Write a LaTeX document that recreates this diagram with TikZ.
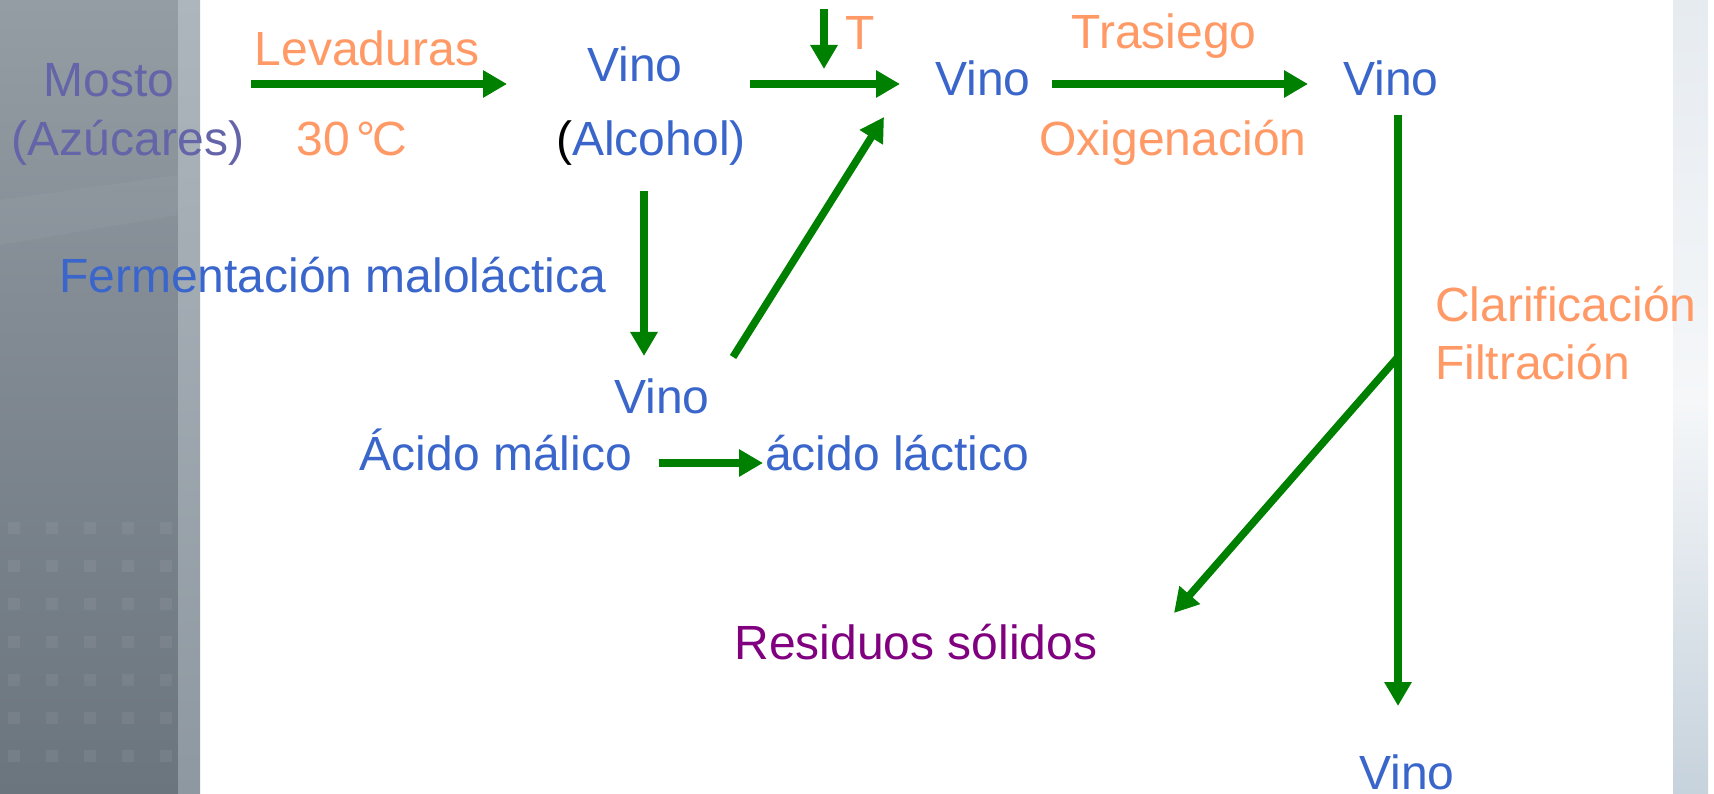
\documentclass[tikz,border=0pt]{standalone}
\usepackage{fontspec}
\setmainfont{Liberation Sans}
\usetikzlibrary{arrows.meta}
\definecolor{tblue}{HTML}{3A66CC}
\definecolor{torange}{HTML}{FF9966}
\definecolor{tslate}{HTML}{6464A8}
\definecolor{tpurple}{HTML}{800080}
\definecolor{tgreen}{HTML}{008000}
\definecolor{panelA}{HTML}{959DA4}
\definecolor{panelB}{HTML}{838C94}
\definecolor{panelC}{HTML}{6B757E}
\definecolor{stripA}{HTML}{AEB6BD}
\definecolor{stripB}{HTML}{8E98A0}
\definecolor{rstripA}{HTML}{E6EBF0}
\definecolor{rstripB}{HTML}{F5F7F9}
\definecolor{rstripC}{HTML}{C6D2DC}
\begin{document}
\begin{tikzpicture}[x=1pt,y=-1pt,
  txt/.style={font=\fontsize{48}{58}\selectfont, inner sep=0pt, anchor=base},
  txtl/.style={txt, anchor=base west},
  txtr/.style={txt, anchor=base east},
  flow/.style={draw=tgreen, line width=7.5pt, -{Triangle[length=24pt,width=26pt]}}]
\useasboundingbox (0,0) rectangle (1714,794);
% background panels
\fill[white] (0,0) rectangle (1714,794);
\shade[top color=panelA, bottom color=panelB] (0,0) rectangle (178,300);
\shade[top color=panelB, bottom color=panelC] (0,300) rectangle (178,794);
\fill[white, opacity=0.04] (0,200) -- (178,175) -- (178,215) -- (0,245) -- cycle;
\shade[top color=stripA, bottom color=stripB] (178,0) rectangle (200,794);
\foreach \r in {0,...,6} {
  \foreach \c in {0,...,4} {
    \fill[white, opacity=0.06] (8+\c*38,522+\r*38) rectangle (20+\c*38,534+\r*38);
  }
}
\shade[top color=rstripA, bottom color=rstripB] (1673,0) rectangle (1708,400);
\shade[top color=rstripB, bottom color=rstripC] (1673,400) rectangle (1708,794);

% texts
\node[txt, text=tslate] (mosto) at (109,97) {Mosto};
\node[txt, text=tslate] (azucar) at (128,156) {(Azúcares)};
\node[txt, text=torange] (lev) at (367,66) {Levaduras};
\node[txt, text=torange] (temp) at (352,156) {30\hspace{0.12em}°\kern-0.06em C};
\node[txt, text=tblue] (vino1) at (635,82) {Vino};
\node[txt, text=tblue] (alcohol) at (651,156) {{\color{black}(}Alcohol)};
\node[txtl, text=torange] (T) at (845,50) {T};
\node[txt, text=tblue] (vino2) at (983,96) {Vino};
\node[txt, text=torange] (tras) at (1164,49) {Trasiego};
\node[txt, text=torange] (oxi) at (1173,156) {Oxigenación};
\node[txt, text=tblue] (vino3) at (1391,96) {Vino};
\node[txtl, text=torange] (clar) at (1435,322) {Clarificación};
\node[txtl, text=torange] (filt) at (1435,379) {Filtración};
\node[txtl, text=tblue] (ferm) at (59,293) {Fermentación maloláctica};
\node[txt, text=tblue] (vinom) at (662,413) {Vino};
\node[txtr, text=tblue] (malico) at (632,470) {Ácido málico};
\node[txtl, text=tblue] (lactico) at (765,470) {ácido láctico};
\node[txt, text=tpurple] (resid) at (916,659) {Residuos sólidos};
\node[txt, text=tblue] (vino4) at (1407,789) {Vino};

% connector end points
\coordinate (a1s) at (251,84);  \coordinate (a1e) at (507,84);
\coordinate (a2s) at (750,84);  \coordinate (a2e) at (900,84);
\coordinate (ts)  at (824,9);   \coordinate (te)  at (824,69);
\coordinate (a3s) at (1052,84); \coordinate (a3e) at (1308,84);
\coordinate (vs)  at (1398,115); \coordinate (ve) at (1398,706);
\coordinate (br)  at (1398,357); \coordinate (bre) at (1174,613);
\coordinate (ds)  at (644,191); \coordinate (de)  at (644,356);
\coordinate (us)  at (733,357); \coordinate (ue)  at (884,117);
\coordinate (ms)  at (659,463); \coordinate (me)  at (763,463);

% connectors
\draw[flow] (a1s) -- (a1e);
\draw[flow] (a2s) -- (a2e);
\draw[flow] (ts) -- (te);
\draw[flow] (a3s) -- (a3e);
\draw[flow] (vs) -- (ve);
\draw[flow] (br) -- (bre);
\draw[flow] (ds) -- (de);
\draw[flow] (us) -- (ue);
\draw[flow] (ms) -- (me);
\end{tikzpicture}
\end{document}
